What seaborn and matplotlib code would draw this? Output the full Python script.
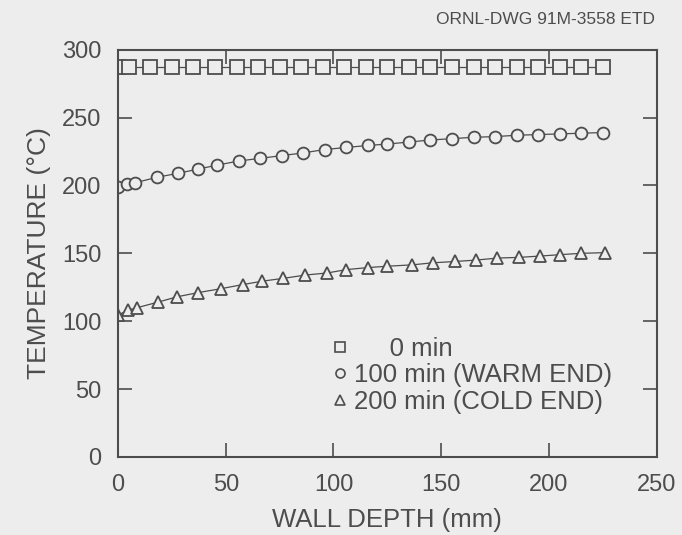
import pandas as pd
import matplotlib
matplotlib.use("Agg")
import matplotlib.pyplot as plt
import seaborn as sns
from matplotlib.lines import Line2D

# Data
depth_0 = [0, 5, 15, 25, 35, 45, 55, 65, 75, 85, 95, 105, 115, 125,
           135, 145, 155, 165, 175, 185, 195, 205, 215, 225]
temp_0 = [287] * len(depth_0)

depth_100 = [0, 4, 8, 18, 28, 37, 46, 56, 66, 76, 86, 96, 106, 116, 125,
             135, 145, 155, 165, 175, 185, 195, 205, 215, 225]
temp_100 = [199, 201, 202, 206, 209, 212, 215, 218, 220, 222, 224, 226.5, 228,
            229.5, 230.5, 232, 233.5, 234.5, 235.5, 236, 237, 237.5, 238, 238.5, 239]

depth_200 = [0, 4.5, 9, 18.5, 27.5, 37, 48, 58, 67, 76.5, 87, 97, 106, 116, 125,
             136.5, 146, 156.5, 166, 176, 186, 196, 205, 215, 226]
temp_200 = [104.5, 108, 110, 114, 118, 121, 124, 127, 129.5, 131.5, 134, 135.5, 138,
            139.5, 140.5, 141.5, 143, 144, 145, 146.5, 147, 148, 149, 150, 150.5]

labels = ["     0 min", "100 min (WARM END)", "200 min (COLD END)"]
markers = ["s", "o", "^"]

bg = "#ededed"
ink = "#4d4d4d"

sns.set_style("ticks")
plt.rcParams["font.family"] = ["Liberation Sans", "DejaVu Sans"]
plt.rcParams["text.color"] = ink
plt.rcParams["axes.labelcolor"] = ink
plt.rcParams["xtick.color"] = ink
plt.rcParams["ytick.color"] = ink

fig = plt.figure(figsize=(6.82, 5.35), dpi=100, facecolor=bg)
ax = fig.add_axes([0.173, 0.146, 0.790, 0.761])
ax.set_facecolor(bg)

series = [(depth_0, temp_0), (depth_100, temp_100), (depth_200, temp_200)]
for (x, y), m, ms in zip(series, markers, [9.5, 8.5, 9]):
    d = pd.DataFrame({"depth": x, "temp": y})
    sns.lineplot(data=d, x="depth", y="temp", ax=ax, color=ink, lw=0.9,
                 marker=m, markersize=ms, markerfacecolor=bg,
                 markeredgecolor=ink, markeredgewidth=1.3)

ax.set_xlim(0, 250)
ax.set_ylim(0, 300)
ax.set_xticks([0, 50, 100, 150, 200, 250])
ax.set_yticks([0, 50, 100, 150, 200, 250, 300])
ax.tick_params(direction="in", length=10, width=1.2, labelsize=17,
               top=True, right=True, pad=12)
for s in ax.spines.values():
    s.set_visible(True)
    s.set_linewidth(1.5)
    s.set_color(ink)

ax.set_xlabel("WALL DEPTH (mm)", fontsize=18.5, labelpad=9)
ax.set_ylabel("TEMPERATURE (°C)", fontsize=19, labelpad=8)

handles = [Line2D([], [], ls="none", marker=m, markersize=6.5, markerfacecolor=bg,
                  markeredgecolor=ink, markeredgewidth=1.2) for m in markers]
ax.legend(handles, labels, loc="upper left", bbox_to_anchor=(0.4, 0.295),
          frameon=False, fontsize=18.5, handlelength=0.5, handletextpad=0.3,
          labelspacing=0.1, borderpad=0, borderaxespad=0)

fig.text(0.96, 0.963, "ORNL-DWG 91M-3558 ETD", fontsize=12.5,
         ha="right", va="center", color=ink)

fig.savefig("out.png", dpi=100, facecolor=bg)
